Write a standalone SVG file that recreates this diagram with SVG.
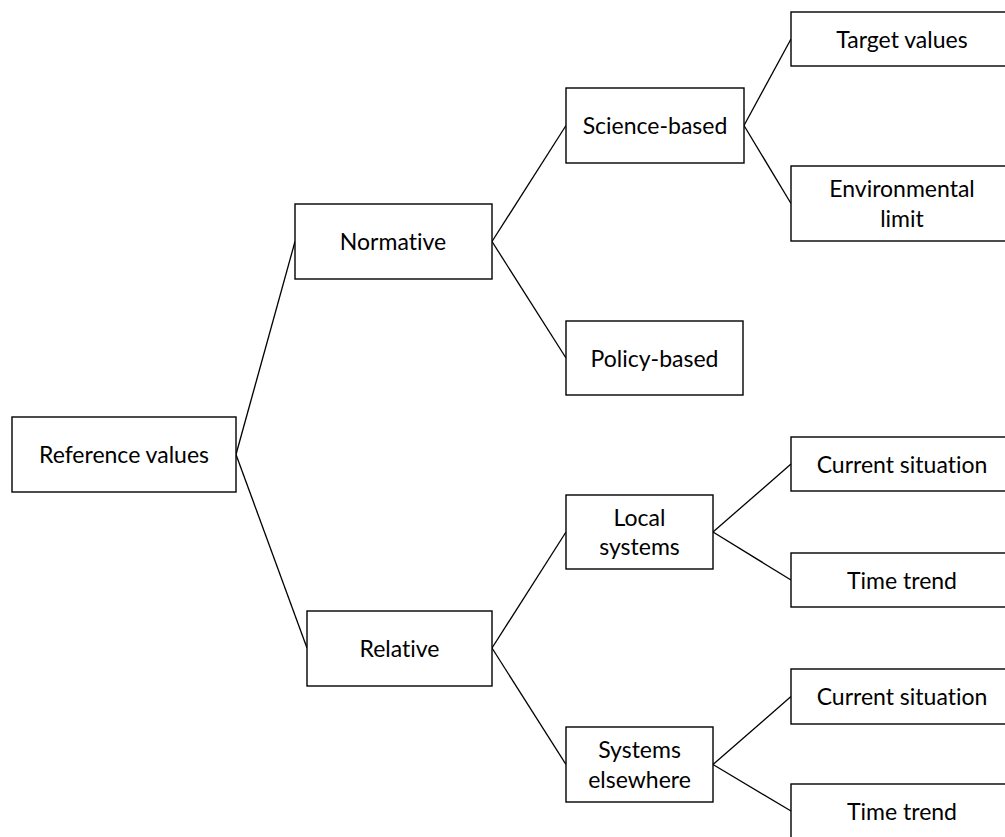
<svg xmlns="http://www.w3.org/2000/svg" width="1005" height="837" viewBox="0 0 1005 837">
<style>
rect{fill:#fff;stroke:#000;stroke-width:1.4}
line{stroke:#000;stroke-width:1.3}
text{font-family:Lato,"Open Sans","Liberation Sans",sans-serif;font-size:23px;fill:#000;text-anchor:middle;font-variant-ligatures:none;font-feature-settings:"liga" 0}
</style>
<rect x="0" y="0" width="1005" height="837" style="stroke:none"/>
<g id="connectors">
<line x1="236" y1="454.5" x2="295" y2="241.5"/>
<line x1="236" y1="454.5" x2="307" y2="648"/>
<line x1="492" y1="241.5" x2="566" y2="125.5"/>
<line x1="492" y1="241.5" x2="566" y2="358"/>
<line x1="744" y1="125.5" x2="791" y2="39"/>
<line x1="744" y1="125.5" x2="791" y2="203.5"/>
<line x1="492" y1="648" x2="566" y2="532"/>
<line x1="492" y1="648" x2="566" y2="764.5"/>
<line x1="713" y1="532" x2="791" y2="464"/>
<line x1="713" y1="532" x2="791" y2="580"/>
<line x1="713" y1="764.5" x2="791" y2="696.5"/>
<line x1="713" y1="764.5" x2="791" y2="811"/>
</g>
<g id="n-reference"><rect x="12" y="417" width="224" height="75"/><text x="124" y="463">Reference values</text></g>
<g id="n-normative"><rect x="295" y="204" width="197" height="75"/><text x="393" y="250">Normative</text></g>
<g id="n-science"><rect x="566" y="88" width="178" height="75"/><text x="655" y="134">Science-based</text></g>
<g id="n-target"><rect x="791" y="12" width="222" height="54"/><text x="902" y="47.5">Target values</text></g>
<g id="n-envlimit"><rect x="791" y="166" width="222" height="75"/><text x="902" y="196.7">Environmental</text><text x="902" y="226.7">limit</text></g>
<g id="n-policy"><rect x="566" y="321" width="177" height="74"/><text x="654.5" y="366.5">Policy-based</text></g>
<g id="n-relative"><rect x="307" y="611" width="185" height="75"/><text x="399.5" y="657">Relative</text></g>
<g id="n-local"><rect x="566" y="495" width="147" height="74"/><text x="639.5" y="525.7">Local</text><text x="639.5" y="554.5">systems</text></g>
<g id="n-current1"><rect x="791" y="437" width="222" height="54"/><text x="902" y="472.5">Current situation</text></g>
<g id="n-trend1"><rect x="791" y="553" width="222" height="54"/><text x="902" y="588.5">Time trend</text></g>
<g id="n-elsewhere"><rect x="566" y="727" width="147" height="75"/><text x="639.5" y="758.3">Systems</text><text x="639.5" y="787.7">elsewhere</text></g>
<g id="n-current2"><rect x="791" y="669" width="222" height="55"/><text x="902" y="705">Current situation</text></g>
<g id="n-trend2"><rect x="791" y="784" width="222" height="60"/><text x="902" y="820">Time trend</text></g>
</svg>
